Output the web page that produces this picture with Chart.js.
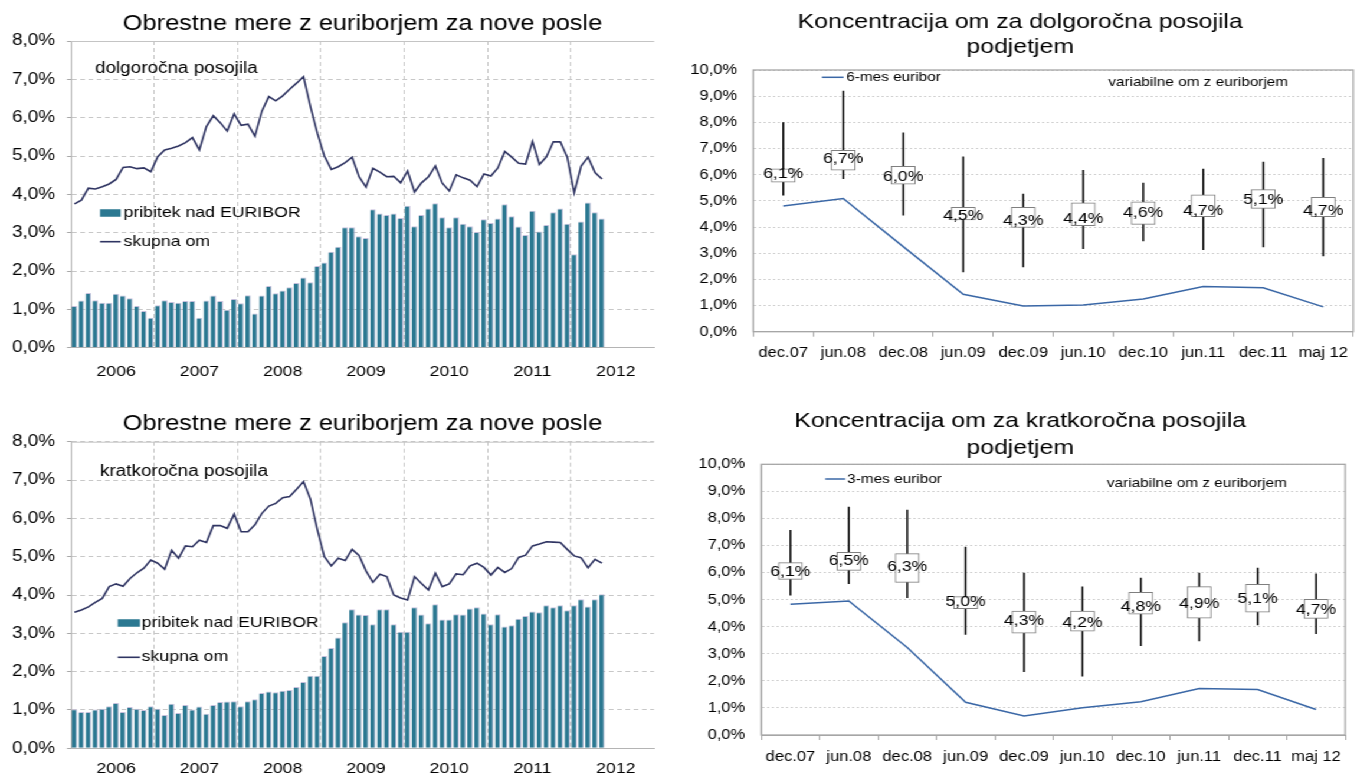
<!DOCTYPE html>
<html lang="sl">
<head>
<meta charset="utf-8">
<title>Obrestne mere z euriborjem</title>
<script src="https://cdn.jsdelivr.net/npm/chart.js@4.4.1/dist/chart.umd.min.js"></script>
<style>
  html, body { margin:0; padding:0; background:#fff; width:1368px; height:776px; overflow:hidden; }
  #wrap { position:absolute; left:0; top:0; height:776px; transform-origin:0 0; }
  #wrap canvas { position:absolute; }
</style>
</head>
<body>
<div id="wrap">
  <canvas id="tl"></canvas><canvas id="tr"></canvas><canvas id="bl"></canvas><canvas id="br"></canvas>
</div>
<script>
// ---------------- DATA ----------------
// Left panels: monthly, Jan 2006 - May 2012 (%)
const years = ['2006','2007','2008','2009','2010','2011','2012'];

const longSpread = [1.09,1.23,1.43,1.24,1.17,1.17,1.41,1.36,1.29,1.09,0.96,0.78,
  1.11,1.24,1.19,1.17,1.22,1.22,0.78,1.23,1.36,1.22,0.99,1.27,
  1.16,1.37,0.89,1.36,1.61,1.42,1.49,1.58,1.69,1.83,1.71,2.13,
  2.22,2.50,2.63,3.14,3.14,2.91,2.86,3.61,3.50,3.46,3.50,3.38,
  3.70,3.17,3.46,3.63,3.77,3.40,3.14,3.40,3.23,3.17,3.02,3.35,
  3.25,3.37,3.74,3.43,3.16,2.94,3.57,3.03,3.20,3.53,3.63,3.23,
  2.44,3.29,3.79,3.53,3.37];

const longRate = [3.75,3.85,4.16,4.14,4.20,4.27,4.39,4.70,4.72,4.67,4.69,4.59,
  4.98,5.16,5.20,5.26,5.35,5.48,5.16,5.77,6.05,5.87,5.65,6.10,
  5.80,5.83,5.52,6.17,6.55,6.44,6.57,6.74,6.90,7.07,6.29,5.59,
  5.00,4.65,4.72,4.83,4.97,4.46,4.19,4.68,4.58,4.46,4.47,4.30,
  4.61,4.06,4.30,4.46,4.74,4.29,4.09,4.51,4.43,4.37,4.20,4.53,
  4.48,4.69,5.12,4.97,4.81,4.79,5.38,4.78,4.98,5.37,5.37,4.97,
  4.04,4.74,4.97,4.57,4.40];

const shortSpread = [1.02,0.95,0.95,1.01,1.03,1.10,1.18,0.95,1.08,1.03,1.00,1.10,
  1.03,0.87,1.16,0.92,1.13,1.01,1.09,0.90,1.13,1.21,1.22,1.23,
  1.10,1.23,1.28,1.44,1.48,1.46,1.50,1.52,1.60,1.73,1.89,1.89,
  2.41,2.62,2.89,3.29,3.63,3.49,3.48,3.24,3.63,3.63,3.24,3.04,
  3.04,3.68,3.49,3.26,3.76,3.36,3.36,3.50,3.49,3.65,3.68,3.52,
  3.24,3.50,3.18,3.21,3.38,3.45,3.57,3.55,3.73,3.68,3.73,3.60,
  3.73,3.89,3.70,3.89,4.02];

const shortRate = [3.55,3.61,3.69,3.81,3.91,4.22,4.29,4.23,4.43,4.58,4.70,4.91,
  4.83,4.67,5.17,4.96,5.28,5.26,5.43,5.37,5.81,5.81,5.74,6.11,
  5.65,5.65,5.83,6.13,6.32,6.39,6.54,6.57,6.76,6.96,6.50,5.70,
  5.00,4.76,4.96,4.90,5.19,5.03,4.63,4.33,4.54,4.48,4.00,3.92,
  3.87,4.48,4.30,4.13,4.57,4.22,4.29,4.55,4.53,4.76,4.83,4.72,
  4.52,4.72,4.59,4.69,4.98,5.04,5.28,5.33,5.39,5.38,5.37,5.19,
  5.02,4.97,4.71,4.93,4.83];

// Right panels: half-yearly distribution of variable euribor-linked rates (%)
const periods = ['dec.07','jun.08','dec.08','jun.09','dec.09','jun.10','dec.10','jun.11','dec.11','maj 12'];

const euribor6m = [4.80,5.09,3.25,1.43,0.98,1.02,1.25,1.73,1.68,0.95];
const longMin   = [5.22,5.85,4.45,2.28,2.48,3.17,3.47,3.13,3.24,2.90];
const longMax   = [7.99,9.19,7.60,6.68,5.26,6.17,5.68,6.21,6.48,6.62];
const longLow   = [5.71,6.17,5.64,4.27,3.98,4.05,4.10,4.40,4.71,4.40];
const longHigh  = [6.22,6.93,6.32,4.75,4.75,4.92,4.96,5.23,5.43,5.13];
const longMid   = [6.1,6.7,6.0,4.5,4.3,4.4,4.6,4.7,5.1,4.7];

const euribor3m = [4.83,4.95,3.23,1.21,0.70,1.01,1.23,1.72,1.68,0.94];
const shortMin  = [5.17,5.59,5.07,3.72,2.34,2.17,3.30,3.48,4.07,3.74];
const shortMax  = [7.56,8.42,8.31,6.94,5.98,5.47,5.80,5.98,6.17,5.95];
const shortLow  = [5.75,6.08,5.64,4.67,3.76,3.84,4.46,4.32,4.54,4.31];
const shortHigh = [6.37,6.75,6.70,5.11,4.58,4.58,5.27,5.48,5.57,5.01];
const shortMid  = [6.1,6.5,6.3,5.0,4.3,4.2,4.8,4.9,5.1,4.7];

// ---------------- LAYOUT ----------------
const S = 1.18; // horizontal stretch of the reference picture
const FONT = "'Liberation Sans', Arial, Helvetica, sans-serif";
Chart.defaults.font.family = FONT;
Chart.defaults.color = '#000';

const wrap = document.getElementById('wrap');
wrap.style.width = (1368 / S) + 'px';
wrap.style.transform = 'scaleX(' + S + ')';

const months = years.flatMap(y => ['01','02','03','04','05','06','07','08','09','10','11','12'].map(m => y + '-' + m));
const pct = v => Number(v).toFixed(1).replace('.', ',') + '%';

function place(id, L, T, W, H) {
  const cv = document.getElementById(id);
  cv.width = Math.round(W / S); cv.height = H;
  cv.style.left = (L / S) + 'px'; cv.style.top = T + 'px';
  return cv;
}
function geom(L, W, chartL, chartR, titleX) {
  const w = Math.round(W / S);
  const cl = (chartL - L) / S, cr = (chartR - L) / S;
  const padR = w - cr;
  let padL = 0;
  if (titleX !== null) padL = Math.max(0, 2 * (titleX - L) / S - cr);
  return { w, padL, padR, yw: cl - padL };
}

const decor = {
  id: 'decor',
  afterDatasetsDraw(chart, args, o) {
    if (!o || o.L === undefined) return;
    const ctx = chart.ctx, ca = chart.chartArea;
    const X = x => (x - o.L) / S, Y = y => y - o.T;
    ctx.save();
    ctx.setLineDash([]);
    if (o.frame) {
      ctx.strokeStyle = o.frame; ctx.lineWidth = 1.3;
      ctx.strokeRect(ca.left, ca.top, ca.right - ca.left, ca.bottom - ca.top);
    }
    if (o.topLine) {
      ctx.strokeStyle = o.topLine; ctx.lineWidth = 1;
      ctx.beginPath(); ctx.moveTo(ca.left, ca.top + 0.5); ctx.lineTo(ca.right, ca.top + 0.5); ctx.stroke();
    }
    if (o.values) {
      const meta = chart.getDatasetMeta(o.values.ds);
      const data = chart.data.datasets[o.values.ds].data;
      ctx.font = o.values.size + 'px ' + FONT; ctx.fillStyle = '#000';
      ctx.textAlign = 'center'; ctx.textBaseline = 'middle';
      meta.data.forEach((pt, i) => ctx.fillText(pct(data[i]), pt.x, pt.y + o.values.dy));
    }
    (o.texts || []).forEach(t => {
      ctx.font = t.size + 'px ' + FONT; ctx.fillStyle = '#000';
      ctx.textAlign = 'left'; ctx.textBaseline = 'middle';
      ctx.fillText(t.text, X(t.x), Y(t.y));
    });
    (o.legend || []).forEach(l => {
      const ds = chart.data.datasets[l.ds];
      if (l.kind === 'rect') {
        ctx.fillStyle = ds.backgroundColor;
        ctx.fillRect(X(l.x1), Y(l.y) - l.h / 2, X(l.x2) - X(l.x1), l.h);
      } else if (l.kind === 'line') {
        ctx.strokeStyle = ds.borderColor; ctx.lineWidth = ds.borderWidth;
        ctx.beginPath(); ctx.moveTo(X(l.x1), Y(l.y)); ctx.lineTo(X(l.x2), Y(l.y)); ctx.stroke();
      }
      ctx.font = l.size + 'px ' + FONT; ctx.fillStyle = '#000';
      ctx.textAlign = 'left'; ctx.textBaseline = 'middle';
      ctx.fillText(ds.label, X(l.tx), Y(l.y));
    });
    ctx.restore();
  }
};
Chart.register(decor);

function leftChart(o) {
  const g = geom(o.L, o.W, o.chartL, o.chartR, null);
  place(o.id, o.L, o.T, o.W, o.H);
  return new Chart(document.getElementById(o.id), {
    type: 'bar',
    data: {
      labels: months,
      datasets: [
        { type: 'line', label: 'skupna om', data: o.rate, borderColor: '#2f3462', borderWidth: 1.6,
          pointRadius: 0, tension: 0, order: 0 },
        { type: 'bar', label: 'pribitek nad EURIBOR', data: o.spread, backgroundColor: '#2b7891',
          borderColor: '#c4bedb', borderWidth: { top: 1, right: 1, left: 0, bottom: 0 },
          barPercentage: 0.8, categoryPercentage: 1, order: 1 }
      ]
    },
    options: {
      responsive: false, animation: false, events: [],
      layout: { padding: { left: g.padL, right: g.padR, top: 0, bottom: 0 } },
      plugins: {
        legend: { display: false }, tooltip: { enabled: false },
        title: { display: true, fullSize: false, text: o.title, color: '#000',
          font: { size: 21.5, weight: 'normal', lineHeight: 24 / 21.5 },
          padding: { top: o.tPadTop, bottom: o.tPadBot } },
        decor: { L: o.L, T: o.T, topLine: '#c4c4c4', texts: o.texts, legend: o.legend }
      },
      scales: {
        x: {
          type: 'category', offset: true,
          grid: { offset: true, drawTicks: false, lineWidth: 1,
            color: c => (c.index > 0 && c.index % 12 === 0) ? '#c8c8c8' : 'rgba(0,0,0,0)' },
          border: { display: true, color: '#b4b4b4', dash: [4, 3] },
          ticks: { autoSkip: false, maxRotation: 0, minRotation: 0, padding: o.xPad, color: '#000',
            font: { size: 15 }, callback: (v, i) => (i % 12 === 6 ? years[Math.floor(i / 12)] : '') },
          afterFit: s => { s.height = o.xh; }
        },
        y: {
          min: 0, max: 8,
          ticks: { stepSize: 1, padding: 12 / S, color: '#000', font: { size: 16 }, callback: v => pct(v) },
          grid: { color: '#c8c8c8', drawTicks: true, tickLength: 4 / S, tickColor: '#a8a8a8', tickWidth: 1, tickBorderDash: [] },
          border: { display: true, color: '#b4b4b4', dash: [4, 3] },
          afterFit: s => { s.width = g.yw; }
        }
      }
    }
  });
}

function rightChart(o) {
  const g = geom(o.L, o.W, o.chartL, o.chartR, o.titleX);
  place(o.id, o.L, o.T, o.W, o.H);
  return new Chart(document.getElementById(o.id), {
    type: 'bar',
    data: {
      labels: periods,
      datasets: [
        { type: 'line', label: o.eurLabel, data: o.eur, borderColor: '#3a67a6', borderWidth: 1.5,
          pointRadius: 0, tension: 0, order: 0 },
        { type: 'line', label: 'mediana', data: o.mid, showLine: false, pointRadius: 0, order: 1 },
        { type: 'bar', label: 'variabilne om z euriborjem', data: o.low.map((v, i) => [v, o.high[i]]),
          backgroundColor: '#ffffff', borderColor: '#7f7f7f', borderWidth: 1, borderSkipped: false,
          barThickness: 24 / S, grouped: false, order: 2 },
        { type: 'bar', label: 'razpon', data: o.min.map((v, i) => [v, o.max[i]]),
          backgroundColor: '#000000', borderWidth: 0, barThickness: 0.85, grouped: false, order: 3 }
      ]
    },
    options: {
      responsive: false, animation: false, events: [],
      layout: { padding: { left: g.padL, right: g.padR, top: 0, bottom: 0 } },
      plugins: {
        legend: { display: false }, tooltip: { enabled: false },
        title: { display: true, text: o.title, color: '#000',
          font: { size: 21, weight: 'normal', lineHeight: o.tLH / 21 },
          padding: { top: o.tPadTop, bottom: o.tPadBot } },
        decor: { L: o.L, T: o.T, frame: '#a6a6a6', values: { ds: 1, size: 15, dy: 2 }, legend: o.legend }
      },
      scales: {
        x: {
          offset: true,
          grid: { offset: true, drawOnChartArea: false, drawTicks: true, tickLength: 5, color: '#a6a6a6', tickColor: '#a6a6a6' },
          border: { display: true, color: '#a6a6a6' },
          ticks: { autoSkip: false, maxRotation: 0, minRotation: 0, padding: o.xPad, color: '#000', font: { size: 14 } },
          afterFit: s => { s.height = o.xh; }
        },
        y: {
          min: 0, max: 10,
          ticks: { stepSize: 1, padding: 16 / S, color: '#000', font: { size: 14 }, callback: v => pct(v) },
          grid: { color: '#d2d2d2', drawTicks: false },
          border: { display: true, color: '#a6a6a6', dash: [2, 2] },
          afterFit: s => { s.width = g.yw; }
        }
      }
    }
  });
}

leftChart({
  id: 'tl', L: 0, T: 0, W: 670, H: 390, chartL: 71, chartR: 654,
  title: 'Obrestne mere z euriborjem za nove posle', tPadTop: 12, tPadBot: 5,
  xh: 42.3, xPad: 15.3, spread: longSpread, rate: longRate,
  texts: [{ text: 'dolgoročna posojila', x: 95, y: 68.5, size: 16 }],
  legend: [
    { ds: 1, kind: 'rect', x1: 100, x2: 120.7, y: 213, h: 7.5, tx: 123.5, size: 15 },
    { ds: 0, kind: 'line', x1: 100, x2: 120.7, y: 241.7, tx: 123.5, size: 15 }
  ]
});

leftChart({
  id: 'bl', L: 0, T: 395, W: 670, H: 381, chartL: 71, chartR: 654,
  title: 'Obrestne mere z euriborjem za nove posle', tPadTop: 17, tPadBot: 5.7,
  xh: 27.7, xPad: 11.7, spread: shortSpread, rate: shortRate,
  texts: [{ text: 'kratkoročna posojila', x: 100, y: 471.5, size: 16 }],
  legend: [
    { ds: 1, kind: 'rect', x1: 117.7, x2: 140, y: 623, h: 7.5, tx: 141.7, size: 15 },
    { ds: 0, kind: 'line', x1: 117.7, x2: 140, y: 657.3, tx: 141.7, size: 15 }
  ]
});

rightChart({
  id: 'tr', L: 670, T: 0, W: 698, H: 390, chartL: 753, chartR: 1353, titleX: 1020,
  title: ['Koncentracija om za dolgoročna posojila', 'podjetjem'], tLH: 25, tPadTop: 9.5, tPadBot: 10.5,
  xh: 58.3, xPad: 8.2,
  eurLabel: '6-mes euribor', eur: euribor6m, mid: longMid,
  low: longLow, high: longHigh, min: longMin, max: longMax,
  legend: [
    { ds: 0, kind: 'line', x1: 821.7, x2: 843.3, y: 77.3, tx: 846, size: 13 },
    { ds: 2, kind: 'none', y: 82.7, tx: 1108, size: 13 }
  ]
});

rightChart({
  id: 'br', L: 670, T: 395, W: 698, H: 381, chartL: 761, chartR: 1345, titleX: 1020,
  title: ['Koncentracija om za kratkoročna posojila', 'podjetjem'], tLH: 27, tPadTop: 12.5, tPadBot: 2.8,
  xh: 41, xPad: 8.3,
  eurLabel: '3-mes euribor', eur: euribor3m, mid: shortMid,
  low: shortLow, high: shortHigh, min: shortMin, max: shortMax,
  legend: [
    { ds: 0, kind: 'line', x1: 825, x2: 845, y: 479, tx: 847, size: 13 },
    { ds: 2, kind: 'none', y: 483.3, tx: 1106.7, size: 13 }
  ]
});
</script>
</body>
</html>
